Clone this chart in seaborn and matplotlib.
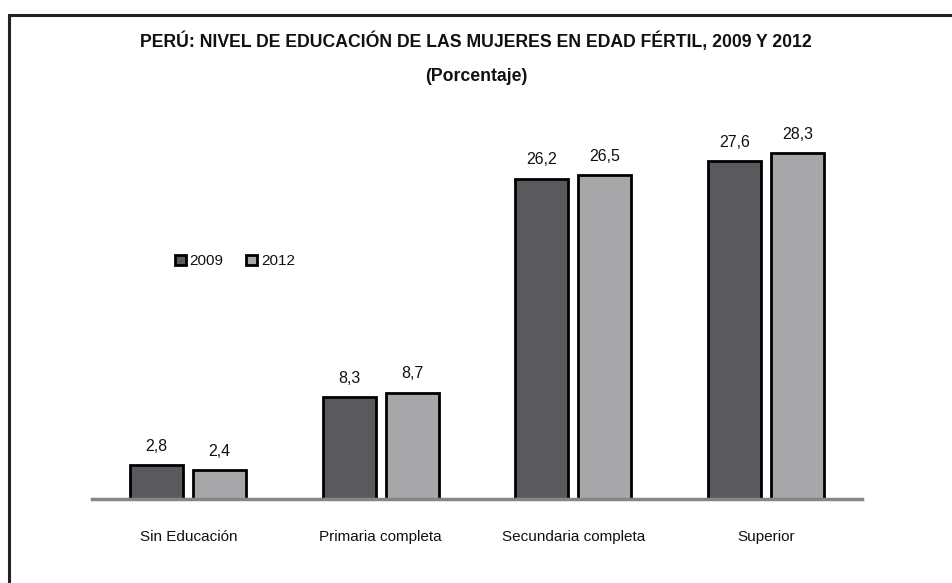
import matplotlib
matplotlib.use("Agg")
import matplotlib.pyplot as plt
import pandas as pd
import seaborn as sns
from matplotlib.patches import Rectangle

# Datos
categorias = ["Sin Educación", "Primaria completa", "Secundaria completa", "Superior"]
anios = ["2009", "2012"]
valores_2009 = [2.8, 8.3, 26.2, 27.6]
valores_2012 = [2.4, 8.7, 26.5, 28.3]

titulo = "PERÚ: NIVEL DE EDUCACIÓN DE LAS MUJERES EN EDAD FÉRTIL, 2009 Y 2012\n(Porcentaje)"

df = pd.DataFrame({
    "categoria": categorias * 2,
    "anio": [anios[0]] * 4 + [anios[1]] * 4,
    "valor": valores_2009 + valores_2012,
})

sns.set_theme(style="white")
plt.rcParams["font.family"] = ["Liberation Sans", "DejaVu Sans"]
plt.rcParams["text.color"] = "#111111"
plt.rcParams["xtick.color"] = "#111111"

W, H = 952, 583
fig = plt.figure(figsize=(W / 100, H / 100), dpi=100)
ax = fig.add_axes([92 / W, (H - 499) / H, (862 - 92) / W, (499 - 107.6) / H])

colores = {"2009": "#5a5a5e", "2012": "#a7a7a9"}
sns.barplot(data=df, x="categoria", y="valor", hue="anio", order=categorias,
            hue_order=anios, palette=colores, width=0.655, gap=0.16,
            edgecolor="black", linewidth=2.0, saturation=1, ax=ax)

ax.set_xlim(-0.5, 3.5)
ax.set_ylim(0, 32)
ax.set_xlabel("")
ax.set_ylabel("")
ax.set_yticks([])
ax.tick_params(axis="x", length=0, pad=22, labelsize=11, labelcolor="#111111")
for s in ["top", "right", "left"]:
    ax.spines[s].set_visible(False)
ax.spines["bottom"].set_color("#868686")
ax.spines["bottom"].set_linewidth(2.5)

for cont in ax.containers:
    ax.bar_label(cont, labels=[f"{v:.1f}".replace(".", ",") for v in cont.datavalues],
                 padding=8, fontsize=11.5, color="#111111")

leg = ax.legend(loc="upper left", bbox_to_anchor=(0.09, 0.66), ncol=2, frameon=False,
                fontsize=11, handlelength=0.7, handleheight=0.7, handletextpad=0.25,
                columnspacing=1.5)
for h in leg.legend_handles:
    h.set_linewidth(2.0)
    h.set_edgecolor("black")

fig.text(0.5, (H - 58) / H, titulo, ha="center", va="center", fontsize=12.7,
         fontweight="bold", linespacing=2.3, color="#111111")

# Marco exterior
fig.patches.append(Rectangle((9 / W, -0.05), 1.1, (H - 15) / H + 0.05,
                             transform=fig.transFigure, fill=False,
                             edgecolor="#222222", linewidth=2.2))

fig.savefig("out.png", dpi=100)
